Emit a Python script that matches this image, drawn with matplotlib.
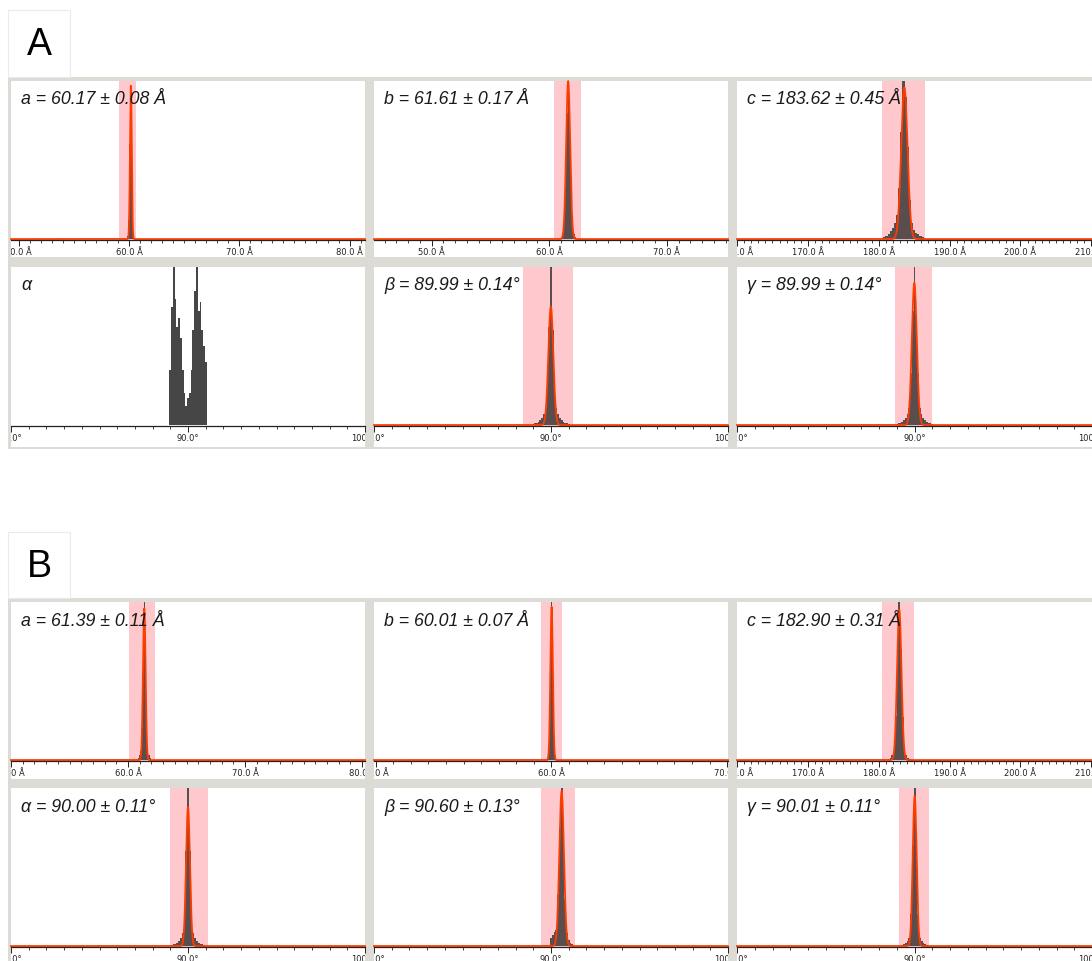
import numpy as np
import matplotlib.pyplot as plt
from matplotlib.patches import Rectangle
from matplotlib.ticker import MultipleLocator, FuncFormatter

W, H = 1092, 961

# ---- Data: panel set A ----
titles_A = ["a = 60.17 ± 0.08 Å", "b = 61.61 ± 0.17 Å", "c = 183.62 ± 0.45 Å",
            "α", "β = 89.99 ± 0.14°", "γ = 89.99 ± 0.14°"]
means_A = [60.17, 61.61, 183.62, None, 89.99, 89.99]
sigmas_A = [0.08, 0.17, 0.45, None, 0.14, 0.14]
fit_peak_A = [0.97, 1.0, 0.96, None, 0.75, 0.9]
bands_A = [(59.1, 60.65), (60.4, 62.7), (180.5, 186.6), None, (88.4, 91.25), (88.9, 91.0)]
xlims_A = [(49.3, 81.4), (45.1, 75.2), (160.0, 210.1), (80, 100), (80, 100), (80, 100)]
hist_start_A = [59.795, 60.96, 180.65, 88.95, 88.95, 88.95]
hist_width_A = [0.05, 0.1, 0.3, 0.1, 0.1, 0.1]
hist_counts_A = [
    [0.01, 0.02, 0.05, 0.12, 0.3, 0.6, 0.92, 1.0, 0.7, 0.38, 0.16, 0.06, 0.02, 0.01, 0.005],
    [0.01, 0.03, 0.08, 0.2, 0.45, 0.8, 1.0, 0.85, 0.5, 0.22, 0.08, 0.03, 0.01],
    [0.01, 0.02, 0.03, 0.05, 0.07, 0.1, 0.15, 0.32, 0.68, 1.0, 0.9, 0.58, 0.25, 0.1, 0.06, 0.04, 0.03, 0.02, 0.01],
    [0.35, 0.75, 1.0, 0.8, 0.62, 0.68, 0.55, 0.35, 0.2, 0.12, 0.17, 0.2, 0.35, 0.6, 0.85, 1.0, 0.72, 0.78, 0.6, 0.5, 0.4],
    [0.005, 0.01, 0.015, 0.02, 0.03, 0.045, 0.07, 0.11, 0.3, 0.62, 1.0, 0.6, 0.28, 0.11, 0.07, 0.045, 0.03, 0.02, 0.015, 0.01, 0.005],
    [0.005, 0.01, 0.015, 0.02, 0.03, 0.045, 0.07, 0.11, 0.33, 0.72, 1.0, 0.7, 0.32, 0.11, 0.07, 0.045, 0.03, 0.02, 0.015, 0.01, 0.005],
]

# ---- Data: panel set B ----
titles_B = ["a = 61.39 ± 0.11 Å", "b = 60.01 ± 0.07 Å", "c = 182.90 ± 0.31 Å",
            "α = 90.00 ± 0.11°", "β = 90.60 ± 0.13°", "γ = 90.01 ± 0.11°"]
means_B = [61.39, 60.01, 182.90, 90.00, 90.60, 90.01]
sigmas_B = [0.11, 0.07, 0.31, 0.11, 0.13, 0.11]
fit_peak_B = [0.96, 0.97, 0.95, 0.88, 0.98, 0.95]
bands_B = [(60.1, 62.3), (59.38, 60.62), (180.4, 185.0), (88.98, 91.13), (89.44, 91.36), (89.1, 90.8)]
xlims_B = [(50.0, 80.25), (49.9, 70.05), (160.0, 210.1), (80, 100), (80, 100), (80, 100)]
hist_start_B = [60.84, 59.685, 181.275, 89.05, 89.95, 89.26]
hist_width_B = [0.1, 0.05, 0.25, 0.1, 0.1, 0.1]
hist_counts_B = [
    [0.01, 0.03, 0.06, 0.2, 0.66, 1.0, 0.64, 0.2, 0.06, 0.03, 0.01],
    [0.005, 0.01, 0.03, 0.1, 0.36, 0.76, 1.0, 0.74, 0.34, 0.1, 0.03, 0.01, 0.005],
    [0.005, 0.01, 0.03, 0.06, 0.28, 0.7, 1.0, 0.7, 0.27, 0.06, 0.03, 0.01, 0.005],
    [0.005, 0.01, 0.015, 0.02, 0.03, 0.05, 0.08, 0.2, 0.6, 1.0, 0.6, 0.2, 0.08, 0.05, 0.03, 0.02, 0.015, 0.01, 0.005],
    [0.05, 0.07, 0.09, 0.1, 0.32, 0.75, 1.0, 0.72, 0.3, 0.08, 0.04, 0.02, 0.01],
    [0.005, 0.01, 0.02, 0.03, 0.05, 0.2, 0.64, 1.0, 0.64, 0.2, 0.05, 0.03, 0.02, 0.01, 0.005],
]
units = ["Å", "Å", "Å", "°", "°", "°"]

# ---- Layout (pixels) ----
cols = [(11, 365), (374, 728), (737, 1092)]
rows_A = [(81, 240, 257), (267, 426, 447)]
rows_B = [(602, 761, 779), (788, 947, 961)]

GREY = "#dcdbd6"
PINK = "#ffc8cc"
RED = "#ff3c00"
DARK = "#2a2a2a"


def frect(x0, y0, x1, y1):
    return (x0 / W, 1 - y1 / H, (x1 - x0) / W, (y1 - y0) / H)


fig = plt.figure(figsize=(W / 100, H / 100), dpi=100)


def add_rect(x0, y0, x1, y1, fc, ec="none", lw=0, z=-2):
    r = Rectangle(frect(x0, y0, x1, y1)[:2], (x1 - x0) / W, (y1 - y0) / H,
                  transform=fig.transFigure, facecolor=fc, edgecolor=ec, lw=lw, zorder=z)
    fig.patches.append(r)
    return r


def draw_group(label, tab_y, frame_y, rows, titles, means, sigmas, peaks, bands,
               xlims, starts, widths, counts):
    # ---- tab + grey frame ----
    add_rect(8, tab_y, 70, frame_y, "white", ec="#ebebeb", lw=0.8)
    add_rect(8, frame_y, 1092, rows[1][2] + 2, GREY, z=-3)
    fig.text(39 / W, 1 - (tab_y + 35) / H, label, fontsize=27, family="Liberation Sans",
             ha="center", va="center", color="black")

    for i in range(6):
        top, axis_y, bot = rows[i // 3]
        x0, x1 = cols[i % 3]
        panel = add_rect(x0, top, x1, bot, "white")

        ax = fig.add_axes(frect(x0, top, x1, axis_y))
        ax.set_zorder(1)
        ax.set_facecolor("none")
        ax.set_xlim(*xlims[i])
        ax.set_ylim(-0.006, 1.0)
        for s in ["left", "right", "top"]:
            ax.spines[s].set_visible(False)
        ax.spines["bottom"].set_color("#222222")
        ax.spines["bottom"].set_linewidth(0.9)
        ax.spines["bottom"].set_zorder(5)
        ax.set_yticks([])

        ax.xaxis.set_major_locator(MultipleLocator(10))
        ax.xaxis.set_minor_locator(MultipleLocator(1))
        u = units[i]
        ax.xaxis.set_major_formatter(FuncFormatter(lambda v, p, u=u: f"{v:.1f} {u}" if u == "Å" else f"{v:.1f}{u}"))
        ax.tick_params(axis="x", which="major", direction="out", length=4, width=0.7,
                       color="#222222", labelsize=6, pad=1.5, labelcolor="#222222")
        ax.tick_params(axis="x", which="minor", direction="out", length=1.8, width=0.6, color="#222222")
        for t in ax.xaxis.get_major_ticks():
            t.label1.set_clip_path(panel)

        if bands[i] is not None:
            ax.axvspan(bands[i][0], bands[i][1], color=PINK, lw=0, zorder=1)

        edges = starts[i] + widths[i] * np.arange(len(counts[i]) + 1)
        if means[i] is None:
            ax.stairs(counts[i], edges, fill=True, color="#464646", lw=0, zorder=3)
        else:
            ax.stairs(counts[i], edges, fill=True, color=DARK, alpha=0.78, lw=0, zorder=3)
            xs = np.linspace(xlims[i][0], xlims[i][1], 4000)
            ys = peaks[i] * np.exp(-0.5 * ((xs - means[i]) / sigmas[i]) ** 2)
            ax.plot(xs, ys, color=RED, lw=1.3, zorder=4, clip_on=False)

        ax.text(10 / (x1 - x0), 1 - 19 / (axis_y - top), titles[i], transform=ax.transAxes,
                fontsize=12.8, family="Liberation Sans", style="italic", color="#1a1a1a",
                ha="left", va="center", zorder=6)


draw_group("A", 10, 77, rows_A, titles_A, means_A, sigmas_A, fit_peak_A, bands_A,
           xlims_A, hist_start_A, hist_width_A, hist_counts_A)
draw_group("B", 532, 598, rows_B, titles_B, means_B, sigmas_B, fit_peak_B, bands_B,
           xlims_B, hist_start_B, hist_width_B, hist_counts_B)

fig.savefig("out.png", dpi=100)
print("Saved out.png")
